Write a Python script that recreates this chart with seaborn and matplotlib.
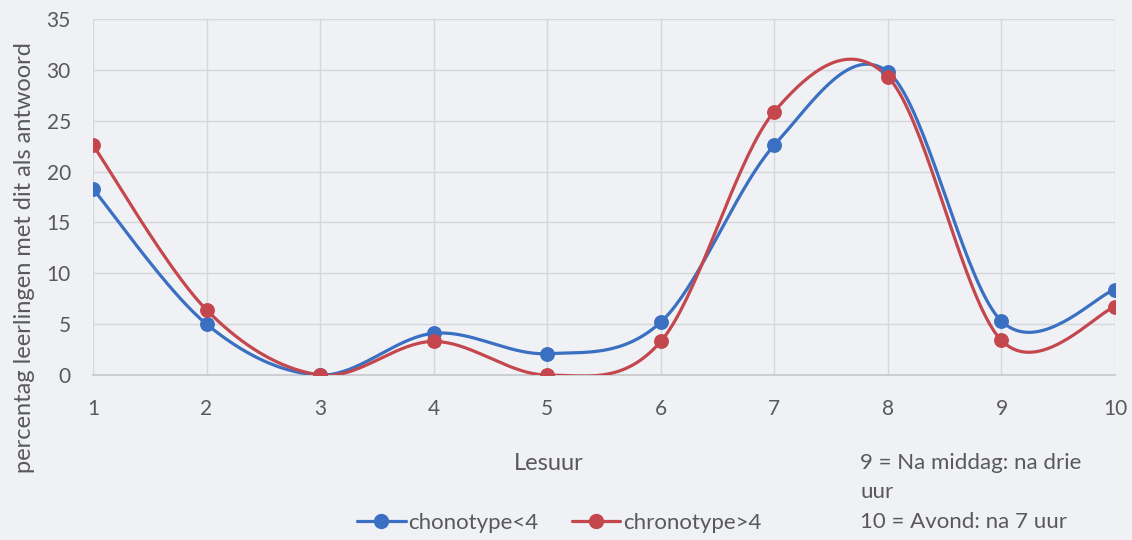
import numpy as np
import pandas as pd
import matplotlib
matplotlib.use("Agg")
import matplotlib.pyplot as plt
from matplotlib.lines import Line2D
import seaborn as sns

lesuur = [1, 2, 3, 4, 5, 6, 7, 8, 9, 10]
chrono_low = [18.3, 5.0, 0.0, 4.1, 2.1, 5.2, 22.6, 29.8, 5.3, 8.4]
chrono_high = [22.6, 6.4, 0.0, 3.3, 0.0, 3.3, 25.9, 29.3, 3.4, 6.7]
series_names = ["chonotype<4", "chronotype>4"]
series_colors = ["#3a6fc2", "#c4474e"]
y_ticks = [0, 5, 10, 15, 20, 25, 30, 35]

sns.set_theme(style="white")
plt.rcParams["font.family"] = ["Lato", "DejaVu Sans"]

BG = "#eff1f5"
TXT = "#595959"


def smooth_curve(xs, ys, n=40):
    """Cubic Bezier smoothing through all points (Catmull-Rom style)."""
    p = np.column_stack([xs, ys]).astype(float)
    p_ext = np.vstack([p[0], p, p[-1]])
    out = []
    t = np.linspace(0, 1, n)[:, None]
    for i in range(len(p) - 1):
        p0, p1, p2, p3 = p_ext[i], p_ext[i + 1], p_ext[i + 2], p_ext[i + 3]
        c1 = p1 + (p2 - p0) / 6.0
        c2 = p2 - (p3 - p1) / 6.0
        seg = ((1 - t) ** 3) * p1 + 3 * ((1 - t) ** 2) * t * c1 + 3 * (1 - t) * t ** 2 * c2 + t ** 3 * p2
        out.append(seg if i == 0 else seg[1:])
    return np.vstack(out)


fig = plt.figure(figsize=(11.32, 5.40), dpi=100, facecolor=BG)
ax = fig.add_axes([93 / 1132, 1 - 375 / 540, (1115 - 93) / 1132, (375 - 19) / 540])
ax.set_facecolor(BG)

for vals, name, col in zip([chrono_low, chrono_high], series_names, series_colors):
    curve = smooth_curve(lesuur, vals)
    cdf = pd.DataFrame({"x": curve[:, 0], "y": curve[:, 1]})
    sns.lineplot(data=cdf, x="x", y="y", sort=False, estimator=None, ax=ax,
                 color=col, linewidth=2.3, zorder=3)
    pdf = pd.DataFrame({"x": lesuur, "y": vals})
    sns.scatterplot(data=pdf, x="x", y="y", ax=ax, color=col, s=115,
                    edgecolor=col, linewidth=0, zorder=4)

ax.set_xlim(1, 10)
ax.set_ylim(0, 35)
ax.set_xticks(lesuur)
ax.set_yticks(y_ticks)
ax.grid(True, color="#d6d7db", linewidth=1.0)
ax.set_axisbelow(True)
for s in ["top", "right", "left"]:
    ax.spines[s].set_visible(False)
ax.spines["bottom"].set_color("#c8c9cd")
ax.tick_params(axis="both", length=0, labelsize=15, labelcolor=TXT)
ax.tick_params(axis="x", pad=17)
ax.tick_params(axis="y", pad=16)
ax.set_xlabel("")
ax.set_ylabel("")

fig.text(25 / 1132, 1 - 258 / 540, "percentag leerlingen met dit als antwoord",
         rotation=90, ha="center", va="center", fontsize=17, color=TXT)
fig.text(549 / 1132, 1 - 463 / 540, "Lesuur", ha="center", va="center", fontsize=17, color=TXT)

handles = [Line2D([0], [0], color=c, lw=2.3, marker="o", markersize=10) for c in series_colors]
fig.legend(handles, series_names, loc="center", bbox_to_anchor=(559 / 1132, 1 - 523 / 540),
           ncol=2, frameon=False, fontsize=16, labelcolor=TXT, handlelength=2.2,
           handletextpad=0.1, columnspacing=1.5, borderpad=0)

note_lines = ["9 = Na middag: na drie", "uur", "10 = Avond: na 7 uur"]
for k, line in enumerate(note_lines):
    fig.text(860 / 1132, 1 - (463 + 29.5 * k) / 540, line, ha="left", va="center",
             fontsize=16, color=TXT)

fig.savefig("out.png", dpi=100, facecolor=BG)
